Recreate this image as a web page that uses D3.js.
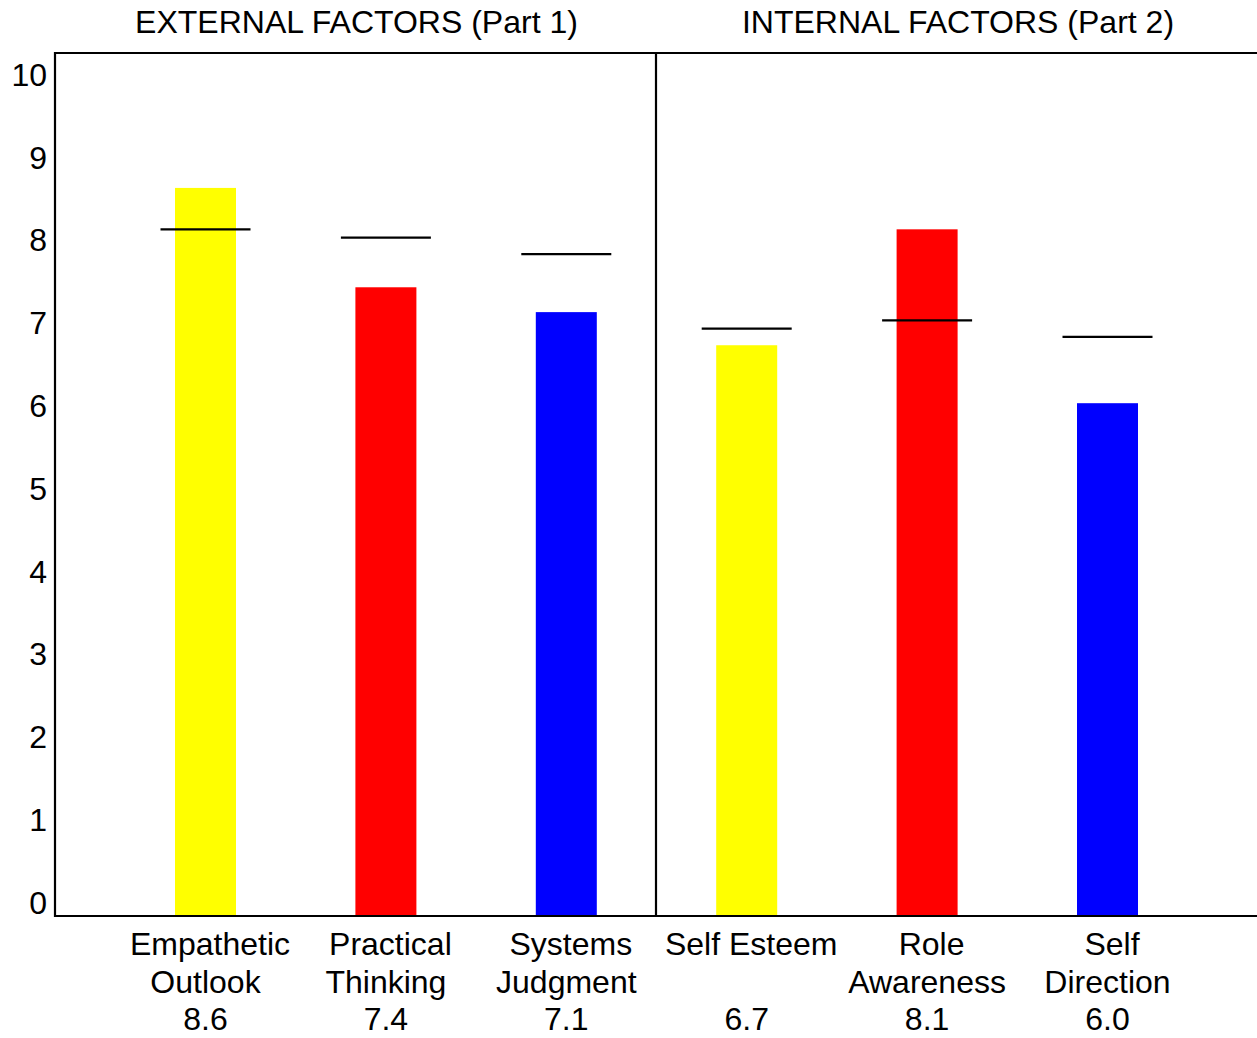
<!DOCTYPE html>
<html>
<head>
<meta charset="utf-8">
<script src="https://cdn.jsdelivr.net/npm/d3@7/dist/d3.min.js"></script>
<style>
  html, body { margin: 0; padding: 0; background: #fff; }
  svg { display: block; font-family: "Liberation Sans", Arial, sans-serif; }
</style>
</head>
<body>
<svg id="chart" width="1257" height="1038"></svg>
<script>
// ---- data ----
const categories = ["Empathetic Outlook", "Practical Thinking", "Systems Judgment", "Self Esteem", "Role Awareness", "Self Direction"];
const labelLines = [["Empathetic", "Outlook"], ["Practical", "Thinking"], ["Systems", "Judgment"], ["Self Esteem", ""], ["Role", "Awareness"], ["Self", "Direction"]];
const scores = [8.6, 7.4, 7.1, 6.7, 8.1, 6.0];
const norms = [8.1, 8.0, 7.8, 6.9, 7.0, 6.8];
const barColors = ["#ffff00", "#ff0000", "#0000ff", "#ffff00", "#ff0000", "#0000ff"];
const groups = ["EXTERNAL FACTORS (Part 1)", "INTERNAL FACTORS (Part 2)"];
const yTicks = [0, 1, 2, 3, 4, 5, 6, 7, 8, 9, 10];

// ---- layout ----
const svg = d3.select("#chart");
const frame = { left: 55, right: 1258, top: 53, bottom: 916 };
const divX = 656;

const y = d3.scaleLinear().domain([0, 10]).range([900, 72]);
const x = d3.scaleBand().domain(categories).range([115.3, 1197.7]).padding(0);
const barW = 61, normW = 90;
const fs = 32;

// bars
svg.append("g").selectAll("rect")
  .data(categories)
  .join("rect")
  .attr("x", (d) => x(d) + x.bandwidth() / 2 - barW / 2)
  .attr("y", (d, i) => y(scores[i]))
  .attr("width", barW)
  .attr("height", (d, i) => frame.bottom - y(scores[i]))
  .attr("fill", (d, i) => barColors[i]);

// norm lines
svg.append("g").selectAll("line")
  .data(categories)
  .join("line")
  .attr("x1", (d) => x(d) + x.bandwidth() / 2 - normW / 2)
  .attr("x2", (d) => x(d) + x.bandwidth() / 2 + normW / 2)
  .attr("y1", (d, i) => y(norms[i]))
  .attr("y2", (d, i) => y(norms[i]))
  .attr("stroke", "#000")
  .attr("stroke-width", 2.2);

// frame
const fr = svg.append("g").attr("stroke", "#000").attr("stroke-width", 2.2).attr("fill", "none");
fr.append("path").attr("d", `M${frame.right},${frame.top}H${frame.left}V${frame.bottom}H${frame.right}`);
fr.append("line").attr("x1", divX).attr("x2", divX).attr("y1", frame.top).attr("y2", frame.bottom);

// y axis labels
const yAxis = d3.axisLeft(y).tickValues(yTicks).tickSize(0).tickPadding(0).tickFormat(d3.format("d"));
const ya = svg.append("g").attr("transform", `translate(47,2)`).call(yAxis);
ya.select(".domain").remove();
ya.selectAll("text")
  .attr("font-size", fs)
  .attr("font-family", "Liberation Sans, Arial, sans-serif")
  .attr("fill", "#000")
  .attr("dy", "0.35em");

// group titles
svg.append("g").selectAll("text")
  .data(groups)
  .join("text")
  .attr("x", (d, i) => i === 0 ? (frame.left + divX) / 2 + 1 : (divX + 1257) / 2 + 1.5)
  .attr("y", 33)
  .attr("text-anchor", "middle")
  .attr("font-size", fs)
  .attr("fill", "#000")
  .text((d) => d);

// category labels
const lab = svg.append("g").selectAll("text")
  .data(categories)
  .join("text")
  .attr("text-anchor", "middle")
  .attr("font-size", fs)
  .attr("fill", "#000");
lab.each(function (d, i) {
  const cx = x(d) + x.bandwidth() / 2;
  const t = d3.select(this);
  const lines = labelLines[i].concat([d3.format(".1f")(scores[i])]);
  lines.forEach((ln, k) => {
    t.append("tspan")
      .attr("x", cx + (k === 0 ? 4.5 : 0))
      .attr("y", 955 + k * 37.5)
      .text(ln);
  });
});
</script>
</body>
</html>
